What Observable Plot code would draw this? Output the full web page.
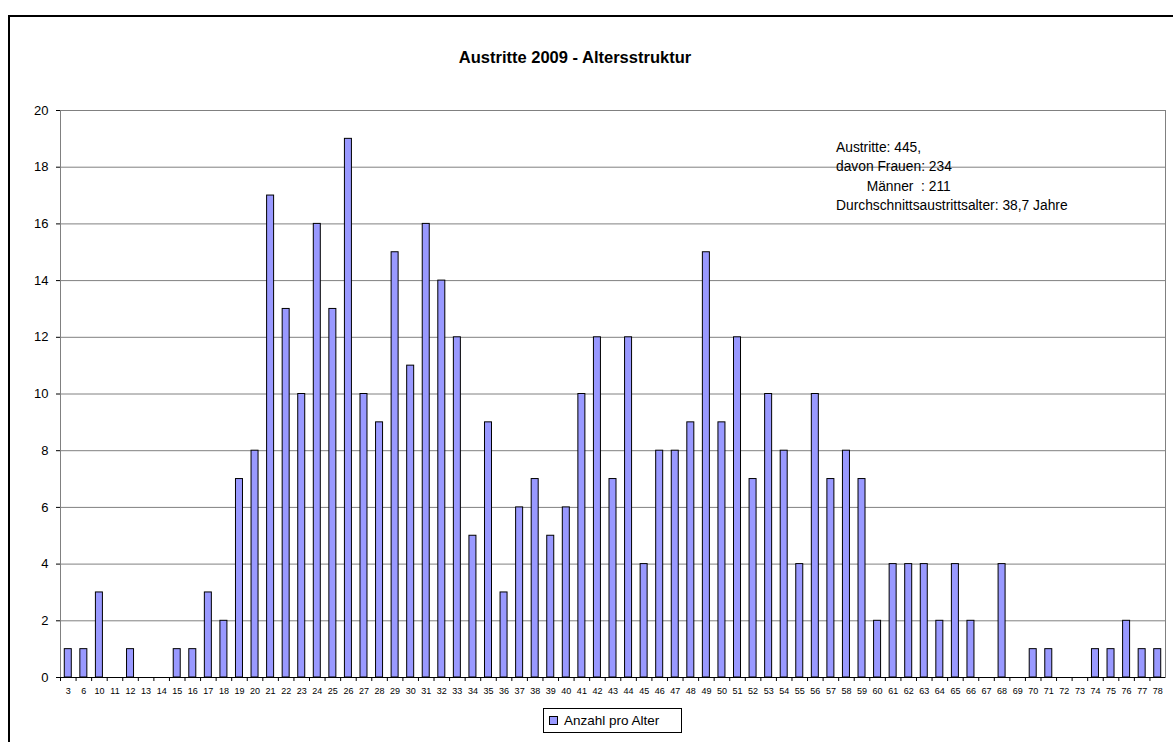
<!DOCTYPE html>
<html>
<head>
<meta charset="utf-8">
<script src="https://cdn.jsdelivr.net/npm/d3@7"></script>
<script src="https://cdn.jsdelivr.net/npm/@observablehq/plot@0.6"></script>
<style>
  html, body { margin: 0; padding: 0; background: #fff; overflow: hidden; }
  body { font-family: "Liberation Sans", Arial, sans-serif; }
  #page { position: relative; width: 1173px; height: 742px; overflow: hidden; }
  #frame { position: absolute; left: 8px; top: 15px; width: 1165px; height: 727px; border-top: 2px solid #000; border-left: 2px solid #000; box-sizing: border-box; }
  #title { position: absolute; left: 0; width: 1150px; top: 48px; text-align: center; font-weight: bold; font-size: 16.5px; }
  #chart { position: absolute; left: 0; top: 90px; }
  #note { position: absolute; left: 836px; top: 138px; font-size: 13.8px; line-height: 19.3px; white-space: pre; }
  #legend { position: absolute; left: 543px; top: 708px; width: 139px; height: 25px; border: 1px solid #000; box-sizing: border-box; font-size: 13.5px; display: flex; align-items: center; background: #fff; }
  #legend .sw { width: 9px; height: 9px; background: #9999FF; border: 1px solid #000; box-sizing: border-box; margin-left: 5px; margin-right: 6px; }
</style>
</head>
<body>
<div id="page">
  <div id="frame"></div>
  <div id="title"></div>
  <div id="chart"></div>
  <div id="note"></div>
  <div id="legend"><div class="sw"></div><span id="legendText"></span></div>
</div>
<script>
const title = "Austritte 2009 - Altersstruktur";
const seriesName = "Anzahl pro Alter";
const noteLines = ["Austritte: 445,", "davon Frauen: 234", "        Männer  : 211", "Durchschnittsaustrittsalter: 38,7 Jahre"];
const ages = ["3","6","10","11","12","13","14","15","16","17","18","19","20","21","22","23","24","25","26","27","28","29","30","31","32","33","34","35","36","37","38","39","40","41","42","43","44","45","46","47","48","49","50","51","52","53","54","55","56","57","58","59","60","61","62","63","64","65","66","67","68","69","70","71","72","73","74","75","76","77","78"];
const counts = [1,1,3,0,1,0,0,1,1,3,2,7,8,17,13,10,16,13,19,10,9,15,11,16,14,12,5,9,3,6,7,5,6,10,12,7,12,4,8,8,9,15,9,12,7,10,8,4,10,7,8,7,2,4,4,4,2,4,2,0,4,0,1,1,0,0,1,1,2,1,1];
const yTicks = [0,2,4,6,8,10,12,14,16,18,20];

document.getElementById("title").textContent = title;
document.getElementById("note").textContent = noteLines.join("\n");
document.getElementById("legendText").textContent = seriesName;

const data = ages.map((a, i) => ({age: a, n: counts[i]}));
const W = 1173, mL = 60, mR = 8;
const step = (W - mL - mR) / ages.length;

const chart = Plot.plot({
  width: W,
  height: 620,
  marginLeft: mL,
  marginRight: mR,
  marginTop: 20,
  marginBottom: 33,
  style: {fontFamily: "'Liberation Sans', Arial, sans-serif", background: "transparent", overflow: "visible"},
  x: {type: "band", domain: ages, paddingInner: 0.55, paddingOuter: 0.275, align: 0.5},
  y: {domain: [0, 20]},
  marks: [
    Plot.gridY(yTicks, {stroke: "#808080", strokeOpacity: 1}),
    Plot.frame({stroke: "#808080"}),
    Plot.barY(data, {x: "age", y: "n", fill: "#9999FF", stroke: "#000", strokeWidth: 1}),
    Plot.ruleY([0], {stroke: "#000"}),
    Plot.axisY(yTicks, {tickSize: 4, tickPadding: 8, fontSize: 13, fill: "#000", line: true, stroke: "#000", label: null}),
    Plot.axisX({tickSize: 4, tickFormat: () => "", dx: -step / 2, label: null, stroke: "#000"}),
    Plot.axisX({tickSize: 0, tickPadding: 10, fontSize: 9, fill: "#000", label: null, style: {letterSpacing: "-0.6px"}})
  ]
});
document.getElementById("chart").appendChild(chart);
</script>
</body>
</html>
